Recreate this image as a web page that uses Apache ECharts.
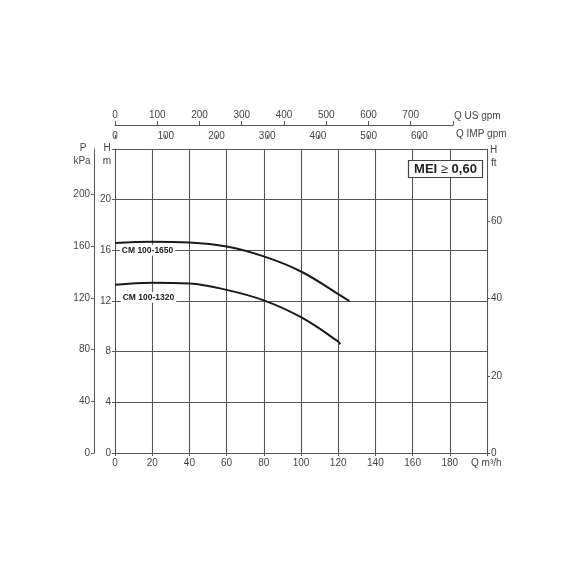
<!DOCTYPE html>
<html>
<head>
<meta charset="utf-8">
<script src="https://cdn.jsdelivr.net/npm/echarts@6/dist/echarts.min.js"></script>
<style>
  html, body { margin: 0; background: #fff; }
  #chart { width: 570px; height: 570px; }
</style>
</head>
<body>
<div id="chart"></div>
<script>
// pump curves (Q in m3/h, H in m)
const curve1650Q = [0, 20, 40, 60, 80, 100, 120, 126]
const curve1650H = [16.58, 16.68, 16.62, 16.3, 15.52, 14.33, 12.55, 12.0]
const curve1320Q = [0, 20, 40, 60, 80, 100, 120, 121]
const curve1320H = [13.28, 13.45, 13.38, 12.88, 12.05, 10.72, 8.8, 8.58]
const curveNames = ['CM 100-1650', 'CM 100-1320']

// tick labels
const flowTicks = [0, 20, 40, 60, 80, 100, 120, 140, 160, 180]
const headTicks = [0, 4, 8, 12, 16, 20]
const pressureTicks = [0, 40, 80, 120, 160, 200]
const feetTicks = [0, 20, 40, 60]
const usGpmTicks = [0, 100, 200, 300, 400, 500, 600, 700, 800]
const impGpmTicks = [0, 100, 200, 300, 400, 500, 600]

// unit conversions
const KPA_PER_M = 9.80665
const FT_PER_M = 3.28084
const M3H_PER_USGPM = 0.227125
const M3H_PER_IMPGPM = 0.272765

const Q_MAX = 200
const H_MAX = 24
const GRID_LEFT = 115
const GRID_RIGHT = 83
const PLOT_W = 570 - GRID_LEFT - GRID_RIGHT
const US_MAX = 800
const topWidth = PLOT_W * (US_MAX * M3H_PER_USGPM) / Q_MAX

const FONT = '"Liberation Sans", Arial, sans-serif'
const NARROW = '"Liberation Sans Narrow", "Liberation Sans", Arial, sans-serif'
const LINE_COLOR = '#555'
const TEXT_COLOR = '#444'

const chart = echarts.init(document.getElementById('chart'))

function pairs(xs, ys) {
  return xs.map((x, i) => [x, ys[i]])
}

function onlyIn(list) {
  return v => (list.indexOf(Math.round(v * 1000) / 1000) >= 0 ? String(v) : '')
}

const labelStyle = { color: TEXT_COLOR, fontSize: 10, fontFamily: FONT }

function curveLabel(name, q, h) {
  return {
    symbol: 'rect',
    symbolSize: 0,
    silent: true,
    label: {
      show: true,
      formatter: () => name,
      color: '#222',
      fontSize: 8.5,
      fontWeight: 'bold',
      fontFamily: NARROW,
      backgroundColor: '#fff',
      padding: [1, 2]
    },
    data: [{ coord: [q, h] }]
  }
}

const option = {
  animation: false,
  backgroundColor: '#fff',
  grid: [
    { left: GRID_LEFT, right: GRID_RIGHT, top: 149, bottom: 117 },
    { left: GRID_LEFT, top: 125, width: topWidth, height: 10 }
  ],
  xAxis: [
    {
      type: 'value',
      gridIndex: 0,
      min: 0,
      max: Q_MAX,
      interval: 20,
      axisLine: { show: true, lineStyle: { color: LINE_COLOR } },
      axisTick: { show: true, length: 3, lineStyle: { color: LINE_COLOR } },
      axisLabel: { ...labelStyle, margin: 5, showMaxLabel: true, formatter: onlyIn(flowTicks) },
      splitLine: { show: true, lineStyle: { color: LINE_COLOR, width: 1.1 } }
    },
    {
      type: 'value',
      gridIndex: 1,
      position: 'top',
      min: 0,
      max: US_MAX,
      interval: 100,
      axisLine: { show: true, onZero: false, lineStyle: { color: LINE_COLOR } },
      axisTick: { show: true, length: 4, lineStyle: { color: LINE_COLOR } },
      axisLabel: { ...labelStyle, margin: 5, formatter: v => (v < US_MAX && usGpmTicks.indexOf(v) >= 0 ? String(v) : '') },
      splitLine: { show: false }
    },
    {
      type: 'value',
      gridIndex: 1,
      position: 'top',
      min: 0,
      max: US_MAX * M3H_PER_USGPM / M3H_PER_IMPGPM,
      interval: 100,
      axisLine: { show: false },
      axisTick: { show: true, inside: true, length: 3, customValues: impGpmTicks, lineStyle: { color: LINE_COLOR } },
      axisLabel: { ...labelStyle, inside: true, margin: 6, customValues: impGpmTicks, formatter: onlyIn(impGpmTicks) },
      splitLine: { show: false }
    }
  ],
  yAxis: [
    {
      type: 'value',
      gridIndex: 0,
      min: 0,
      max: H_MAX,
      interval: 4,
      axisLine: { show: true, lineStyle: { color: LINE_COLOR } },
      axisTick: { show: true, length: 3, lineStyle: { color: LINE_COLOR } },
      axisLabel: { ...labelStyle, margin: 4, formatter: onlyIn(headTicks) },
      splitLine: { show: true, lineStyle: { color: LINE_COLOR, width: 1.1 } }
    },
    {
      type: 'value',
      gridIndex: 0,
      position: 'left',
      offset: 21,
      min: 0,
      max: H_MAX * KPA_PER_M,
      interval: 40,
      axisLine: { show: true, lineStyle: { color: LINE_COLOR } },
      axisTick: { show: true, length: 3, customValues: pressureTicks, lineStyle: { color: LINE_COLOR } },
      axisLabel: { ...labelStyle, margin: 4, customValues: pressureTicks, formatter: onlyIn(pressureTicks) },
      splitLine: { show: false }
    },
    {
      type: 'value',
      gridIndex: 0,
      position: 'right',
      min: 0,
      max: H_MAX * FT_PER_M,
      interval: 20,
      axisLine: { show: true, lineStyle: { color: LINE_COLOR } },
      axisTick: { show: true, length: 3, customValues: feetTicks, lineStyle: { color: LINE_COLOR } },
      axisLabel: { ...labelStyle, margin: 4, customValues: feetTicks, formatter: onlyIn(feetTicks) },
      splitLine: { show: false }
    },
    { type: 'value', gridIndex: 1, show: false, min: 0, max: 1 }
  ],
  series: [
    {
      name: curveNames[0],
      type: 'line',
      xAxisIndex: 0,
      yAxisIndex: 0,
      smooth: 0.4,
      symbol: 'none',
      lineStyle: { color: '#1a1a1a', width: 2 },
      data: pairs(curve1650Q, curve1650H),
      markPoint: curveLabel(curveNames[0], 17.5, 16.0)
    },
    {
      name: curveNames[1],
      type: 'line',
      xAxisIndex: 0,
      yAxisIndex: 0,
      smooth: 0.4,
      symbol: 'none',
      lineStyle: { color: '#1a1a1a', width: 2 },
      data: pairs(curve1320Q, curve1320H),
      markPoint: curveLabel(curveNames[1], 18, 12.3)
    }
  ],
  graphic: [
    { type: 'text', x: 83, y: 148, style: { text: 'P', fill: TEXT_COLOR, font: '10px ' + FONT, align: 'center', verticalAlign: 'middle' } },
    { type: 'text', x: 82, y: 161, style: { text: 'kPa', fill: TEXT_COLOR, font: '10px ' + FONT, align: 'center', verticalAlign: 'middle' } },
    { type: 'text', x: 107, y: 148, style: { text: 'H', fill: TEXT_COLOR, font: '10px ' + FONT, align: 'center', verticalAlign: 'middle' } },
    { type: 'text', x: 107, y: 161, style: { text: 'm', fill: TEXT_COLOR, font: '10px ' + FONT, align: 'center', verticalAlign: 'middle' } },
    { type: 'text', x: 490, y: 150, style: { text: 'H', fill: TEXT_COLOR, font: '10px ' + FONT, align: 'left', verticalAlign: 'middle' } },
    { type: 'text', x: 491, y: 163, style: { text: 'ft', fill: TEXT_COLOR, font: '10px ' + FONT, align: 'left', verticalAlign: 'middle' } },
    { type: 'text', x: 471, y: 463, style: { text: 'Q m³/h', fill: TEXT_COLOR, font: '10px ' + FONT, align: 'left', verticalAlign: 'middle' } },
    { type: 'text', x: 454, y: 116, style: { text: 'Q US gpm', fill: TEXT_COLOR, font: '10px ' + FONT, align: 'left', verticalAlign: 'middle' } },
    { type: 'text', x: 456, y: 134, style: { text: 'Q IMP gpm', fill: TEXT_COLOR, font: '10px ' + FONT, align: 'left', verticalAlign: 'middle' } },
    {
      type: 'rect',
      shape: { x: 408.5, y: 160.5, width: 74, height: 17 },
      style: { fill: '#fff', stroke: '#444', lineWidth: 1.2 },
      z: 10
    },
    {
      type: 'text',
      x: 445.5,
      y: 169,
      z: 11,
      style: {
        text: '{b|MEI }{r|≥}{b| 0,60}',
        align: 'center',
        verticalAlign: 'middle',
        rich: {
          b: { fontSize: 13, fontWeight: 'bold', fontFamily: FONT, fill: '#222' },
          r: { fontSize: 13, fontFamily: FONT, fill: '#333' }
        }
      }
    }
  ]
}

chart.setOption(option)
</script>
</body>
</html>
